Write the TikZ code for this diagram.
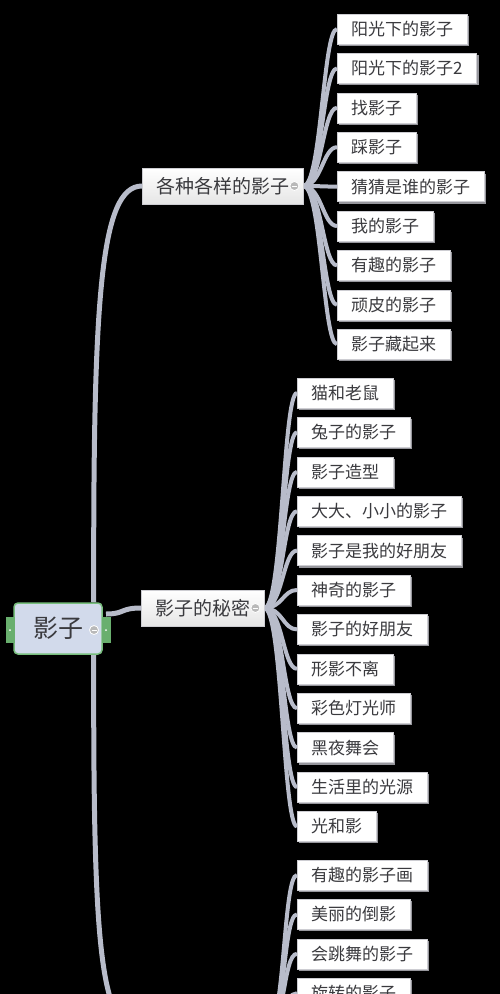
\documentclass[tikz,border=0pt]{standalone}
\usepackage{fontspec}
\setmainfont{Noto Sans CJK SC}
\usetikzlibrary{positioning, backgrounds, shadows}
\definecolor{linkgray}{RGB}{184, 188, 202}
\definecolor{leafline}{RGB}{205, 205, 210}
\definecolor{shade}{RGB}{150, 150, 156}
\definecolor{ink}{RGB}{58, 58, 62}
\definecolor{rootfill}{RGB}{210, 218, 235}
\definecolor{rootline}{RGB}{120, 190, 125}
\definecolor{tabgreen}{RGB}{105, 175, 110}

\begin{document}
\begin{tikzpicture}[
    x=1pt, y=-1pt,
    node distance=9pt,
    leaf/.style={draw=leafline, fill=white, text=ink, font=\fontsize{17}{17}\selectfont,
                 minimum height=30pt, inner xsep=14pt, inner ysep=0pt,
                 drop shadow={shadow xshift=2pt, shadow yshift=-2pt, fill=shade, opacity=1}},
    next/.style={below=of #1.south west, anchor=north west},
    branch/.style={draw=leafline, top color=white, bottom color=gray!20, text=ink,
                   font=\fontsize{19}{19}\selectfont, minimum height=36pt,
                   inner xsep=14pt, inner ysep=0pt, anchor=west},
    rootbox/.style={draw=rootline, line width=1.5pt, fill=rootfill, rounded corners=4pt,
                    text=ink, font=\fontsize{25}{25}\selectfont,
                    minimum width=88pt, minimum height=51pt},
    tab/.style={fill=tabgreen, minimum width=9pt, minimum height=26pt, inner sep=0pt,
                path picture={\fill[white] (path picture bounding box.center) circle (1pt);}},
    minus/.style={circle, draw=white, fill=gray!55, line width=0.8pt, minimum size=9pt, inner sep=0pt,
                  path picture={\draw[white, line width=1pt] ([xshift=2pt]path picture bounding box.west)
                                -- ([xshift=-2pt]path picture bounding box.east);}},
    link/.style={draw=linkgray, line width=5pt},
    sublink/.style={draw=linkgray, line width=4pt}
  ]
  \useasboundingbox (0,0) rectangle (500,994);

  % Root
  \node[rootbox] (root) at (58,628.5) {影子};
  \node[tab] (tabl) at (10,630) {};
  \node[tab] (tabr) at (106,630) {};
  \node[minus] (mroot) at (94,630) {};

  % Branches
  \node[branch] (g1) at (142,186) {各种各样的影子\hspace{6pt}};
  \node[branch] (g2) at (141,608) {影子的秘密\hspace{6pt}};
  \coordinate (g3) at (141,1030);
  \coordinate (g3e) at (267,1030);
  \node[minus] (m1) at ([xshift=-9pt]g1.east) {};
  \node[minus] (m2) at ([xshift=-9pt]g2.east) {};

  % Leaves – first branch
  \node[leaf, anchor=west] (a1) at (337,29) {阳光下的影子};
  \node[leaf, next=a1] (a2) {阳光下的影子2};
  \node[leaf, next=a2] (a3) {找影子};
  \node[leaf, next=a3] (a4) {踩影子};
  \node[leaf, next=a4] (a5) {猜猜是谁的影子};
  \node[leaf, next=a5] (a6) {我的影子};
  \node[leaf, next=a6] (a7) {有趣的影子};
  \node[leaf, next=a7] (a8) {顽皮的影子};
  \node[leaf, next=a8] (a9) {影子藏起来};

  % Leaves – second branch
  \node[leaf, anchor=west] (b1) at (297,393) {猫和老鼠};
  \node[leaf, next=b1] (b2) {兔子的影子};
  \node[leaf, next=b2] (b3) {影子造型};
  \node[leaf, next=b3] (b4) {大大、小小的影子};
  \node[leaf, next=b4] (b5) {影子是我的好朋友};
  \node[leaf, next=b5] (b6) {神奇的影子};
  \node[leaf, next=b6] (b7) {影子的好朋友};
  \node[leaf, next=b7] (b8) {形影不离};
  \node[leaf, next=b8] (b9) {彩色灯光师};
  \node[leaf, next=b9] (b10) {黑夜舞会};
  \node[leaf, next=b10] (b11) {生活里的光源};
  \node[leaf, next=b11] (b12) {光和影};

  % Leaves – third branch
  \node[leaf, anchor=west] (c1) at (297,875) {有趣的影子画};
  \node[leaf, next=c1] (c2) {美丽的倒影};
  \node[leaf, next=c2] (c3) {会跳舞的影子};
  \node[leaf, next=c3] (c4) {旋转的影子};

  % Links
  \begin{scope}[on background layer]
    \fill[black] (0,0) rectangle (500,994);
    \draw[link] ([xshift=-9pt]root.north east) .. controls (93,300) and (100,186) .. (g1.west);
    \draw[link] ([xshift=-9pt]root.south east) .. controls (93,950) and (100,1030) .. (g3);
    \draw[link] ([yshift=16pt]tabr.center) .. controls (125,614) and (120,608) .. (g2.west);
    \foreach \n in {a1,a2,a3,a4,a5,a6,a7,a8,a9}
      \draw[sublink] (g1.east) .. controls +(18,0) and +(-14,0) .. (\n.west);
    \foreach \n in {b1,b2,b3,b4,b5,b6,b7,b8,b9,b10,b11,b12}
      \draw[sublink] (g2.east) .. controls +(18,0) and +(-14,0) .. (\n.west);
    \foreach \n in {c1,c2,c3,c4}
      \draw[sublink] (g3e) .. controls +(18,0) and +(-14,0) .. (\n.west);
  \end{scope}
\end{tikzpicture}
\end{document}
